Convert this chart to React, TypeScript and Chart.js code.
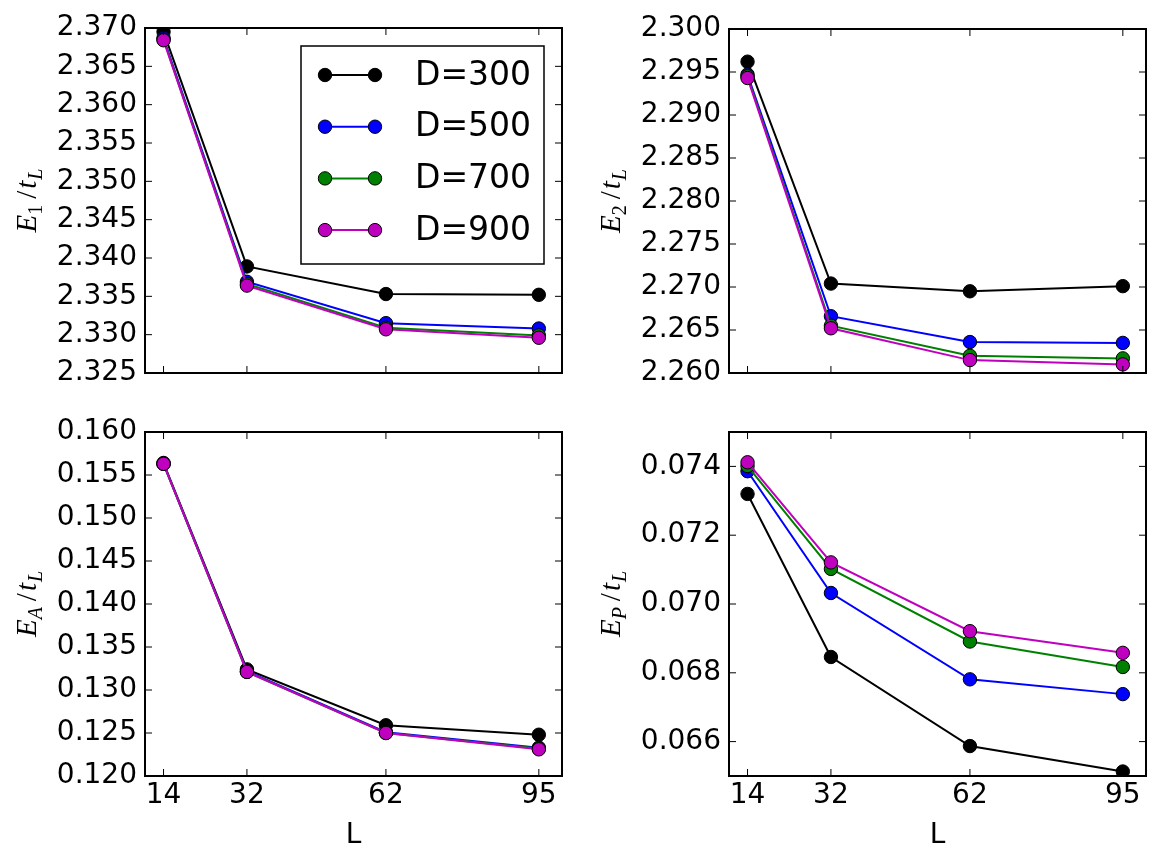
import React, { useEffect, useRef } from 'react';
import { Chart, registerables } from 'chart.js';

Chart.register(...registerables);

// ---------- data ----------
const L_VALUES = [14, 32, 62, 95];
const X_TICKS = [14, 32, 62, 95];
const SERIES_LABELS = ['D=300', 'D=500', 'D=700', 'D=900'];
const SERIES_COLORS = ['#000000', '#0000ff', '#008000', '#bf00bf'];

const E1_D300 = [2.3695, 2.3389, 2.3353, 2.3352];
const E1_D500 = [2.3687, 2.3369, 2.3315, 2.3308];
const E1_D700 = [2.3685, 2.3366, 2.3309, 2.3299];
const E1_D900 = [2.3684, 2.3364, 2.3307, 2.3296];

const E2_D300 = [2.2962, 2.2704, 2.2695, 2.2701];
const E2_D500 = [2.2947, 2.2666, 2.2636, 2.2635];
const E2_D700 = [2.2945, 2.2655, 2.2620, 2.2617];
const E2_D900 = [2.2943, 2.2652, 2.2615, 2.2610];

const EA_D300 = [0.1564, 0.1324, 0.1259, 0.1248];
const EA_D500 = [0.1563, 0.1322, 0.1251, 0.1233];
const EA_D700 = [0.1563, 0.1321, 0.1250, 0.1232];
const EA_D900 = [0.1563, 0.1321, 0.1250, 0.1231];

const EP_D300 = [0.0732, 0.06846, 0.06587, 0.06513];
const EP_D500 = [0.07386, 0.07032, 0.06781, 0.06738];
const EP_D700 = [0.07401, 0.07102, 0.06891, 0.06817];
const EP_D900 = [0.07412, 0.07121, 0.06921, 0.06858];

const E1_TICKS = [2.325, 2.33, 2.335, 2.34, 2.345, 2.35, 2.355, 2.36, 2.365, 2.37];
const E2_TICKS = [2.26, 2.265, 2.27, 2.275, 2.28, 2.285, 2.29, 2.295, 2.3];
const EA_TICKS = [0.12, 0.125, 0.13, 0.135, 0.14, 0.145, 0.15, 0.155, 0.16];
const EP_TICKS = [0.066, 0.068, 0.07, 0.072, 0.074];

const X_MIN = 10;
const X_MAX = 100;

// ---------- layout ----------
type PanelCfg = {
  key: string;
  left: number;
  top: number;
  width: number;
  height: number;
  plot: { l: number; t: number; r: number; b: number };
  yMin: number;
  yMax: number;
  yTicks: number[];
  decimals: number;
  series: number[][];
  sub: string;
  subItalic: boolean;
  showX: boolean;
  legend: boolean;
};

const PANELS: PanelCfg[] = [
  {
    key: 'e1', left: 0, top: 0, width: 580, height: 400,
    plot: { l: 145, t: 28, r: 562, b: 373 },
    yMin: 2.325, yMax: 2.37, yTicks: E1_TICKS, decimals: 3,
    series: [E1_D300, E1_D500, E1_D700, E1_D900],
    sub: '1', subItalic: false, showX: false, legend: true,
  },
  {
    key: 'e2', left: 580, top: 0, width: 581, height: 400,
    plot: { l: 149, t: 29, r: 566, b: 373 },
    yMin: 2.26, yMax: 2.3, yTicks: E2_TICKS, decimals: 3,
    series: [E2_D300, E2_D500, E2_D700, E2_D900],
    sub: '2', subItalic: false, showX: false, legend: false,
  },
  {
    key: 'ea', left: 0, top: 400, width: 580, height: 468,
    plot: { l: 145, t: 32, r: 562, b: 376 },
    yMin: 0.12, yMax: 0.16, yTicks: EA_TICKS, decimals: 3,
    series: [EA_D300, EA_D500, EA_D700, EA_D900],
    sub: 'A', subItalic: true, showX: true, legend: false,
  },
  {
    key: 'ep', left: 580, top: 400, width: 581, height: 468,
    plot: { l: 149, t: 32, r: 566, b: 376 },
    yMin: 0.065, yMax: 0.075, yTicks: EP_TICKS, decimals: 3,
    series: [EP_D300, EP_D500, EP_D700, EP_D900],
    sub: 'P', subItalic: true, showX: true, legend: false,
  },
];

const TICK_FONT = { family: '"DejaVu Sans"', size: 28 };
const POINT_R = 6.7;
const LINE_W = 2;

function drawYTitle(ctx: CanvasRenderingContext2D, cx: number, cy: number, sub: string, subItalic: boolean) {
  const big = 29;
  const small = 20;
  const fam = '"Liberation Serif", "DejaVu Serif", serif';
  const pieces = [
    { t: 'E', f: `italic ${big}px ${fam}`, dy: 0, gap: 0 },
    { t: sub, f: `${subItalic ? 'italic ' : ''}${small}px ${fam}`, dy: 6, gap: 6 },
    { t: '/', f: `${big}px ${fam}`, dy: 0, gap: 2 },
    { t: 't', f: `italic ${big}px ${fam}`, dy: 0, gap: 1 },
    { t: 'L', f: `italic ${small}px ${fam}`, dy: 6, gap: 0 },
  ];
  let total = 0;
  const widths: number[] = [];
  for (const p of pieces) {
    ctx.font = p.f;
    const w = ctx.measureText(p.t).width;
    widths.push(w);
    total += w + p.gap;
  }
  ctx.save();
  ctx.translate(cx, cy);
  ctx.rotate(-Math.PI / 2);
  ctx.fillStyle = '#000';
  ctx.textBaseline = 'alphabetic';
  ctx.textAlign = 'left';
  let x = -total / 2;
  const base = 9;
  pieces.forEach((p, i) => {
    ctx.font = p.f;
    ctx.fillText(p.t, x, base + p.dy);
    x += widths[i] + p.gap;
  });
  ctx.restore();
}

function makePlugin(cfg: PanelCfg) {
  return {
    id: 'mplFrame_' + cfg.key,
    afterDatasetsDraw(chart: any) {
      const { ctx, chartArea: a, scales } = chart;
      const xs = scales.x;
      const ys = scales.y;
      const TL = 7;
      ctx.save();
      ctx.strokeStyle = '#000';
      ctx.lineWidth = 1;
      ctx.beginPath();
      ys.ticks.forEach((t: any) => {
        const y = ys.getPixelForValue(t.value);
        ctx.moveTo(a.left, y);
        ctx.lineTo(a.left + TL, y);
        ctx.moveTo(a.right - TL, y);
        ctx.lineTo(a.right, y);
      });
      xs.ticks.forEach((t: any) => {
        const x = xs.getPixelForValue(t.value);
        ctx.moveTo(x, a.bottom);
        ctx.lineTo(x, a.bottom - TL);
        ctx.moveTo(x, a.top);
        ctx.lineTo(x, a.top + TL);
      });
      ctx.stroke();
      ctx.lineWidth = 2;
      ctx.strokeRect(a.left, a.top, a.right - a.left, a.bottom - a.top);
      ctx.restore();
    },
    afterDraw(chart: any) {
      const { ctx, chartArea: a } = chart;
      drawYTitle(ctx, a.left - 118, (a.top + a.bottom) / 2, cfg.sub, cfg.subItalic);
      if (cfg.legend) {
        ctx.save();
        const bx = 301, by = 46, bw = 243, bh = 218;
        ctx.fillStyle = '#fff';
        ctx.fillRect(bx, by, bw, bh);
        ctx.strokeStyle = '#000';
        ctx.lineWidth = 1.5;
        ctx.strokeRect(bx, by, bw, bh);
        chart.data.datasets.forEach((ds: any, i: number) => {
          const y = 75 + i * 51.7;
          ctx.strokeStyle = ds.borderColor;
          ctx.lineWidth = LINE_W;
          ctx.beginPath();
          ctx.moveTo(325, y);
          ctx.lineTo(375, y);
          ctx.stroke();
          [325, 375].forEach((mx) => {
            ctx.beginPath();
            ctx.arc(mx, y, POINT_R, 0, Math.PI * 2);
            ctx.fillStyle = ds.backgroundColor;
            ctx.fill();
            ctx.strokeStyle = '#000';
            ctx.lineWidth = 1;
            ctx.stroke();
          });
          ctx.fillStyle = '#000';
          ctx.font = '33px "DejaVu Sans"';
          ctx.textBaseline = 'middle';
          ctx.textAlign = 'left';
          ctx.fillText(ds.label, 415, y + 1);
        });
        ctx.restore();
      }
    },
  };
}

function Panel({ cfg }: { cfg: PanelCfg }) {
  const ref = useRef<HTMLCanvasElement | null>(null);
  useEffect(() => {
    if (!ref.current) return;
    const datasets = cfg.series.map((vals, si) => ({
      label: SERIES_LABELS[si],
      data: L_VALUES.map((x, i) => ({ x, y: vals[i] })),
      borderColor: SERIES_COLORS[si],
      backgroundColor: SERIES_COLORS[si],
      pointBackgroundColor: SERIES_COLORS[si],
      pointBorderColor: '#000',
      pointBorderWidth: 1,
      pointRadius: POINT_R,
      borderWidth: LINE_W,
      tension: 0,
      clip: 0,
      order: SERIES_LABELS.length - si,
    }));
    const xHeight = cfg.height - cfg.plot.b;
    const chart = new Chart(ref.current, {
      type: 'line',
      data: { datasets },
      options: {
        responsive: false,
        animation: false,
        events: [],
        layout: {
          padding: {
            left: 0,
            top: cfg.plot.t,
            right: cfg.width - cfg.plot.r,
            bottom: cfg.showX ? 0 : cfg.height - cfg.plot.b,
          },
        },
        plugins: { legend: { display: false }, tooltip: { enabled: false } },
        scales: {
          x: {
            type: 'linear',
            min: X_MIN,
            max: X_MAX,
            grid: { display: false, drawTicks: false },
            border: { display: false },
            afterBuildTicks: (s: any) => {
              s.ticks = X_TICKS.map((v) => ({ value: v }));
            },
            ticks: {
              display: cfg.showX,
              padding: 3,
              font: TICK_FONT,
              color: '#000',
              autoSkip: false,
              maxRotation: 0,
              callback: (v: any) => String(v),
            },
            title: {
              display: cfg.showX,
              text: 'L',
              color: '#000',
              font: { family: '"DejaVu Sans"', size: 28 },
              padding: { top: 0, bottom: 15 },
            },
            afterFit: (s: any) => {
              s.height = cfg.showX ? xHeight : 0;
            },
          },
          y: {
            type: 'linear',
            min: cfg.yMin,
            max: cfg.yMax,
            grid: { display: false, drawTicks: false },
            border: { display: false },
            afterBuildTicks: (s: any) => {
              s.ticks = cfg.yTicks.map((v) => ({ value: v }));
            },
            ticks: {
              padding: 8,
              font: TICK_FONT,
              color: '#000',
              autoSkip: false,
              callback: (v: any) => Number(v).toFixed(cfg.decimals),
            },
            afterFit: (s: any) => {
              s.width = cfg.plot.l;
            },
          },
        },
      } as any,
      plugins: [makePlugin(cfg)],
    });
    return () => chart.destroy();
  }, [cfg]);
  return (
    <canvas
      ref={ref}
      width={cfg.width}
      height={cfg.height}
      style={{ position: 'absolute', left: cfg.left, top: cfg.top, width: cfg.width, height: cfg.height }}
    />
  );
}

export default function App() {
  return (
    <div style={{ position: 'absolute', left: 0, top: 0, width: 1161, height: 868, background: '#fff' }}>
      {PANELS.map((p) => (
        <Panel key={p.key} cfg={p} />
      ))}
    </div>
  );
}
